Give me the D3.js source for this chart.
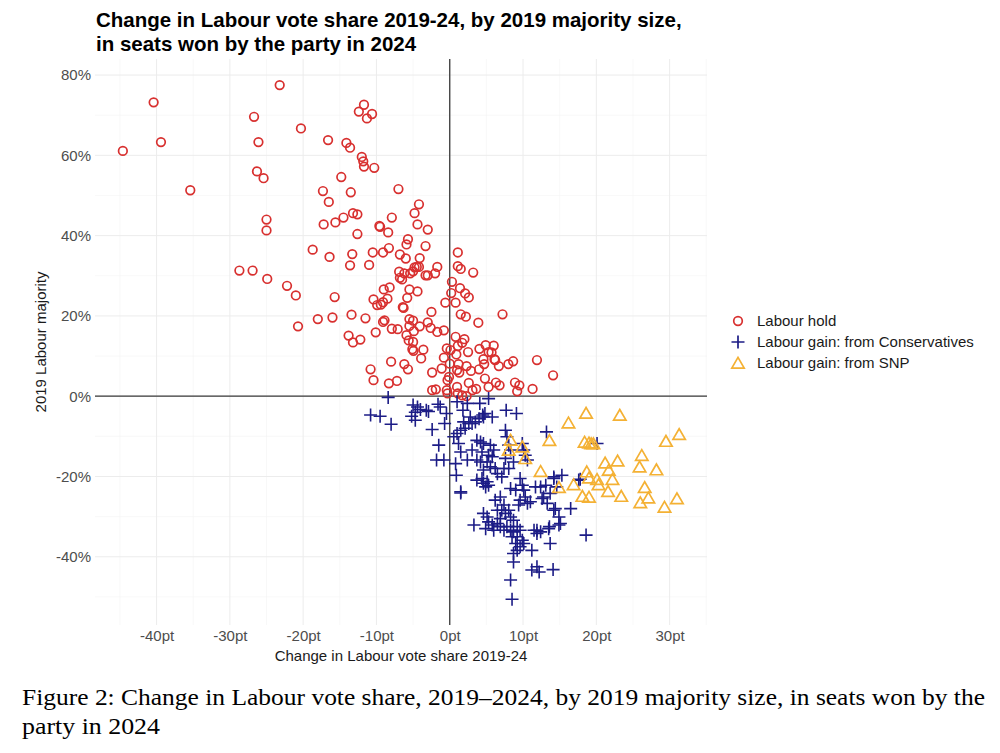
<!DOCTYPE html>
<html>
<head>
<meta charset="utf-8">
<script src="https://cdn.jsdelivr.net/npm/d3@7"></script>
<style>
  body { margin: 0; background: #fff; }
  svg { display: block; }
</style>
</head>
<body>
<svg id="chart" width="1000" height="753"></svg>
<script>
// ---------------- DATA ----------------
const seriesNames = ["Labour hold", "Labour gain: from Conservatives", "Labour gain: from SNP"];

const holdPoints = [
[-40.4,73.2],[-39.4,63.3],[-44.6,61.1],[-35.4,51.3],[-26.7,69.6],[-26.1,63.3],[-26.3,56.0],[-25.4,54.3],[-25.0,44.0],[-25.0,41.3],
[-23.2,77.5],[-20.3,66.7],[-16.6,63.8],[-14.1,63.1],[-13.6,61.9],[-11.7,72.6],[-12.4,70.9],[-10.6,70.3],[-11.3,69.2],[-12.0,59.6],
[-11.8,58.5],[-11.7,57.2],[-10.3,56.9],[-14.8,54.6],[-7.0,51.6],[-17.3,51.1],[-13.5,50.8],[-16.5,48.4],[-4.2,47.8],[-4.8,45.6],
[-13.2,45.6],[-12.6,45.3],[-14.5,44.5],[-15.6,43.3],[-17.2,42.8],[-7.9,44.5],[-9.6,42.4],[-9.5,42.2],[-4.4,42.8],[-3.0,41.5],
[-8.4,40.8],[-12.6,40.4],[-5.7,39.1],[-5.9,37.8],[-3.3,37.4],[-18.7,36.5],[-16.4,34.7],[-13.3,35.4],[-10.5,35.8],[-9.1,35.8],
[-8.3,36.9],[-6.8,35.3],[-6.0,34.3],[-4.1,34.4],[1.1,35.8],[-13.6,32.6],[-11.0,32.7],[-1.7,32.2],[-28.7,31.3],[-26.9,31.3],
[-24.9,29.2],[-22.2,27.5],[-21.0,25.1],[-15.7,24.7],[-20.7,17.4],[-18.0,19.2],[-16.0,19.6],[-13.4,20.3],[-11.5,19.4],[-13.8,15.1],
[-13.2,13.4],[-12.2,14.1],[-10.8,6.7],[-10.4,4.0],[-8.3,3.2],[-7.2,3.8],[-8.0,8.6],[-6.2,8.0],[-5.7,6.7],[-2.4,5.9],
[-3.9,9.4],[-2.4,1.5],[-1.9,1.7],[-0.3,0.7],[-0.3,4.0],[-1.1,6.9],[0.0,8.1],[-0.4,11.9],[0.1,11.5],[-0.8,9.6],
[-10.1,15.9],[-9.1,18.5],[-8.9,18.9],[-7.9,16.8],[-7.1,16.7],[-5.9,15.2],[-5.6,13.9],[-5.0,13.5],[-5.1,11.7],[-4.95,11.3],
[-3.6,11.6],[-4.9,16.2],[-4.1,17.4],[-5.5,19.2],[-5.0,18.8],[-3.0,18.4],[-2.6,17.0],[-1.7,16.0],[-0.8,16.4],[-2.5,21.0],
[-10.4,24.1],[-9.9,22.7],[-9.4,22.8],[-9.1,23.4],[-8.5,24.3],[-9.0,26.6],[-8.2,27.1],[-6.4,22.2],[-6.3,22.0],[-5.8,24.5],
[-5.5,26.6],[-4.4,26.1],[-0.6,23.3],[0.2,25.7],[0.3,28.5],[-6.9,31.0],[-6.8,29.5],[-6.5,29.1],[-6.2,30.6],[-5.4,30.6],
[-5.0,31.1],[-4.5,32.2],[-3.3,30.1],[-3.0,30.1],[-2.0,30.6],[-4.2,32.2],[-4.8,32.1],[1.1,32.4],[1.5,31.7],[3.2,30.8],
[1.4,26.9],[2.1,25.6],[2.6,24.6],[0.8,23.3],[1.5,20.4],[2.2,19.8],[7.2,20.4],[3.9,18.3],[-5.5,17.5],[0.8,14.8],
[1.1,12.5],[2.0,14.2],[1.7,13.3],[0.9,10.4],[1.2,8.0],[1.0,6.5],[1.3,5.9],[2.5,11.0],[4.05,11.8],[4.9,12.7],
[5.3,11.0],[6.0,12.6],[5.7,10.9],[6.1,9.2],[6.2,9.0],[6.7,7.5],[4.6,9.2],[4.7,8.0],[4.0,6.7],[2.9,6.3],
[2.3,7.5],[8.0,8.0],[8.65,8.7],[11.9,9.0],[14.1,5.2],[4.8,4.4],[2.6,3.3],[3.1,1.5],[3.6,1.8],[1.0,2.3],
[1.1,0.7],[-0.4,1.5],[5.3,2.3],[6.3,3.4],[6.8,2.7],[8.9,3.4],[9.5,2.7],[9.2,1.2],[11.3,1.8],[1.7,0.2],
[2.3,0.0],[-0.1,4.8]
];

const conPoints = [
[-8.4,-0.3],[-10.8,-4.7],[-9.5,-5.0],[-8.0,-7.0],[-5.0,-2.2],[-4.4,-2.7],[-4.7,-4.0],[-4.0,-3.3],[-3.2,-3.5],[-5.2,-5.0],
[-4.7,-6.0],[-2.9,-3.8],[-1.6,-2.0],[-1.3,-2.7],[-0.45,-4.3],[-2.4,-8.3],[-0.7,-6.8],[-1.5,-12.2],[-1.8,-15.9],[-0.8,-15.9],
[1.0,-1.4],[1.8,-3.5],[2.4,-1.8],[4.1,-1.8],[4.5,-4.7],[5.3,-0.6],[5.8,-5.2],[4.8,-4.3],[7.7,-3.5],[9.1,-4.3],
[0.55,-10.1],[1.0,-9.3],[1.5,-8.5],[2.1,-8.0],[2.6,-6.8],[3.05,-6.8],[3.5,-6.4],[1.9,-6.4],[2.8,-5.2],[4.0,-5.6],
[4.6,-5.2],[1.2,-11.8],[1.5,-13.9],[3.05,-13.4],[2.4,-15.9],[3.7,-11.0],[4.2,-11.4],[4.6,-11.8],[4.4,-13.9],[5.55,-12.2],
[6.0,-13.4],[5.3,-14.7],[5.8,-15.1],[0.8,-16.8],[0.9,-19.7],[1.5,-23.8],[3.7,-15.9],[4.2,-16.4],[5.1,-16.4],[4.6,-18.4],
[5.55,-17.6],[6.2,-18.0],[6.5,-19.3],[7.4,-18.0],[7.1,-20.1],[8.05,-18.0],[7.6,-15.5],[8.7,-16.4],[3.7,-20.9],[4.4,-20.5],
[4.6,-21.7],[5.1,-21.3],[5.3,-22.2],[4.9,-22.6],[7.6,-8.5],[7.8,-10.1],[8.05,-12.2],[8.3,-13.4],[9.9,-11.8],[10.1,-13.4],
[10.3,-14.7],[10.6,-15.9],[13.2,-8.9],[9.6,-20.5],[9.9,-22.2],[8.3,-23.0],[9.0,-23.4],[10.1,-23.4],[10.3,-25.1],[9.6,-25.9],
[10.6,-26.7],[9.4,-27.1],[11.0,-26.3],[1.5,-24.1],[6.2,-25.9],[6.9,-25.1],[7.4,-27.1],[6.5,-28.4],[7.1,-28.4],[7.6,-29.2],
[8.05,-28.4],[8.3,-30.1],[8.7,-30.9],[6.9,-30.5],[4.6,-29.2],[5.1,-30.1],[5.3,-31.3],[4.9,-33.0],[3.3,-32.1],[5.8,-32.1],
[6.5,-31.7],[6.9,-32.5],[6.0,-33.4],[7.4,-33.4],[7.8,-32.5],[8.3,-33.4],[8.5,-35.0],[8.7,-33.8],[9.2,-32.5],[9.6,-33.4],
[9.2,-35.0],[9.9,-35.9],[9.0,-36.7],[9.6,-37.5],[10.1,-36.7],[8.7,-39.2],[9.2,-38.4],[8.7,-41.3],[8.3,-45.8],[8.5,-50.6],
[11.2,-43.3],[11.9,-42.5],[12.2,-43.8],[14.1,-43.2],[11.5,-33.4],[11.9,-34.2],[12.4,-33.8],[11.2,-38.4],[13.7,-36.7],[13.6,-32.5],
[12.4,-22.6],[12.8,-25.1],[13.3,-26.7],[14.2,-28.4],[14.9,-30.1],[15.1,-31.7],[16.5,-28.0],[14.2,-20.5],[15.3,-19.7],[17.6,-20.9],
[11.7,-22.6],[20.1,-11.8],[14.2,-20.1],[17.8,-20.7],[13.1,-22.2],[14.6,-22.6],[13.7,-24.2],[12.6,-25.5],[14.4,-28.0],[14.9,-32.1],
[13.5,-33.0],[11.9,-33.4],[18.6,-34.6]
];

const snpPoints = [
[18.6,-4.2],[23.2,-4.7],[16.2,-6.6],[31.3,-9.5],[29.5,-11.2],[13.6,-11.0],[18.4,-11.4],[19.0,-11.6],[19.3,-11.8],[19.6,-11.8],
[8.3,-10.9],[8.05,-13.4],[9.9,-12.6],[10.3,-15.5],[12.4,-18.7],[21.2,-16.6],[22.9,-16.1],[26.2,-14.7],[25.9,-17.6],[28.2,-18.3],
[21.7,-18.4],[18.7,-18.8],[19.0,-20.3],[22.2,-20.7],[20.1,-20.7],[20.3,-22.0],[16.9,-22.0],[14.9,-22.7],[26.6,-22.7],[21.6,-23.7],
[18.1,-24.9],[19.0,-25.1],[23.4,-24.9],[27.1,-25.3],[31.0,-25.5],[26.0,-26.5],[29.3,-27.6]
];

const xTicks = [-40, -30, -20, -10, 0, 10, 20, 30];
const xMinor = [-45, -35, -25, -15, -5, 5, 15, 25, 35];
const yTicks = [-40, -20, 0, 20, 40, 60, 80];
const yMinor = [-50, -30, -10, 10, 30, 50, 70];

const titleLines = ["Change in Labour vote share 2019-24, by 2019 majority size,", "in seats won by the party in 2024"];
const xTitle = "Change in Labour vote share 2019-24";
const yTitle = "2019 Labour majority";
const captionLines = ["Figure 2: Change in Labour vote share, 2019\u20132024, by 2019 majority size, in seats won by the", "party in 2024"];

// ---------------- CHART ----------------
const svg = d3.select("#chart");
const font = "'Liberation Sans', Arial, sans-serif";
const colors = ["#d8302f", "#1c1c86", "#f4b134"];

const panel = {left: 95, right: 707, top: 59, bottom: 625};
const x = d3.scaleLinear().domain([-48.4, 35.1]).range([panel.left, panel.right]);
const y = d3.scaleLinear().domain([-57, 84]).range([panel.bottom, panel.top]);

const grid = svg.append("g");
grid.selectAll(".vminor").data(xMinor.filter(v => x(v) <= panel.right)).join("line")
  .attr("x1", d => x(d)).attr("x2", d => x(d)).attr("y1", panel.top).attr("y2", panel.bottom)
  .attr("stroke", "#f4f4f4").attr("stroke-width", 0.6);
grid.selectAll(".hminor").data(yMinor).join("line")
  .attr("x1", panel.left).attr("x2", panel.right).attr("y1", d => y(d)).attr("y2", d => y(d))
  .attr("stroke", "#f4f4f4").attr("stroke-width", 0.6);
grid.selectAll(".vmajor").data(xTicks).join("line")
  .attr("x1", d => x(d)).attr("x2", d => x(d)).attr("y1", panel.top).attr("y2", panel.bottom)
  .attr("stroke", "#ececec").attr("stroke-width", 1);
grid.selectAll(".hmajor").data(yTicks).join("line")
  .attr("x1", panel.left).attr("x2", panel.right).attr("y1", d => y(d)).attr("y2", d => y(d))
  .attr("stroke", "#ececec").attr("stroke-width", 1);

// reference lines
svg.append("line").attr("x1", panel.left).attr("x2", panel.right).attr("y1", y(0)).attr("y2", y(0))
  .attr("stroke", "#3a3a3a").attr("stroke-width", 1.3);
svg.append("line").attr("x1", x(0)).attr("x2", x(0)).attr("y1", panel.top).attr("y2", panel.bottom)
  .attr("stroke", "#3a3a3a").attr("stroke-width", 1.3);

// axes (tick labels only, as in theme_minimal)
const xAxis = svg.append("g").attr("transform", `translate(0,${panel.bottom})`)
  .call(d3.axisBottom(x).tickValues(xTicks).tickFormat(d => d + "pt").tickSize(0).tickPadding(5));
const yAxis = svg.append("g").attr("transform", `translate(${panel.left},0)`)
  .call(d3.axisLeft(y).tickValues(yTicks).tickFormat(d => d + "%").tickSize(0).tickPadding(4));
[xAxis, yAxis].forEach(a => {
  a.select(".domain").remove();
  a.selectAll("text").attr("font-family", font).attr("font-size", 15).attr("fill", "#4d4d4d");
});

// points
const circlePath = d3.symbol(d3.symbolCircle, 58)();
const plusPath = "M-6.5,0H6.5M0,-6.5V6.5";
const triPath = "M0,-5.6L6.2,5.1L-6.2,5.1Z";

svg.append("g").selectAll("path").data(holdPoints).join("path")
  .attr("d", circlePath).attr("transform", d => `translate(${x(d[0])},${y(d[1])})`)
  .attr("fill", "none").attr("stroke", colors[0]).attr("stroke-width", 1.7);
svg.append("g").selectAll("path").data(conPoints).join("path")
  .attr("d", plusPath).attr("transform", d => `translate(${x(d[0])},${y(d[1])})`)
  .attr("fill", "none").attr("stroke", colors[1]).attr("stroke-width", 1.6);
svg.append("g").selectAll("path").data(snpPoints).join("path")
  .attr("d", triPath).attr("transform", d => `translate(${x(d[0])},${y(d[1])})`)
  .attr("fill", "none").attr("stroke", colors[2]).attr("stroke-width", 1.7);

// titles
const title = svg.append("text").attr("font-family", font).attr("font-weight", "bold")
  .attr("font-size", 20.5).attr("fill", "#000");
titleLines.forEach((t, i) => title.append("tspan").attr("x", 96).attr("y", 27 + i * 24).text(t));

svg.append("text").attr("x", (panel.left + panel.right) / 2).attr("y", 661)
  .attr("text-anchor", "middle").attr("font-family", font).attr("font-size", 15).attr("fill", "#1a1a1a")
  .text(xTitle);
svg.append("text").attr("transform", `translate(46,${(panel.top + panel.bottom) / 2}) rotate(-90)`)
  .attr("text-anchor", "middle").attr("font-family", font).attr("font-size", 15).attr("fill", "#1a1a1a")
  .text(yTitle);

// legend
const legend = svg.append("g").attr("transform", "translate(738,321)");
const legendShapes = [circlePath, plusPath, triPath];
seriesNames.forEach((n, i) => {
  const g = legend.append("g").attr("transform", `translate(0,${i * 21})`);
  g.append("path").attr("d", legendShapes[i]).attr("fill", "none")
    .attr("stroke", colors[i]).attr("stroke-width", 1.7);
  g.append("text").attr("x", 19).attr("y", 0).attr("dy", "0.35em")
    .attr("font-family", font).attr("font-size", 15).attr("fill", "#1a1a1a").text(n);
});

// caption
const cap = svg.append("text").attr("font-family", "'Liberation Serif', 'DejaVu Serif', serif")
  .attr("font-size", 23).attr("fill", "#000");
cap.append("tspan").attr("x", 22).attr("y", 705).attr("textLength", 963)
  .attr("lengthAdjust", "spacingAndGlyphs").text(captionLines[0]);
cap.append("tspan").attr("x", 22).attr("y", 734).attr("textLength", 138)
  .attr("lengthAdjust", "spacingAndGlyphs").text(captionLines[1]);
</script>
</body>
</html>
